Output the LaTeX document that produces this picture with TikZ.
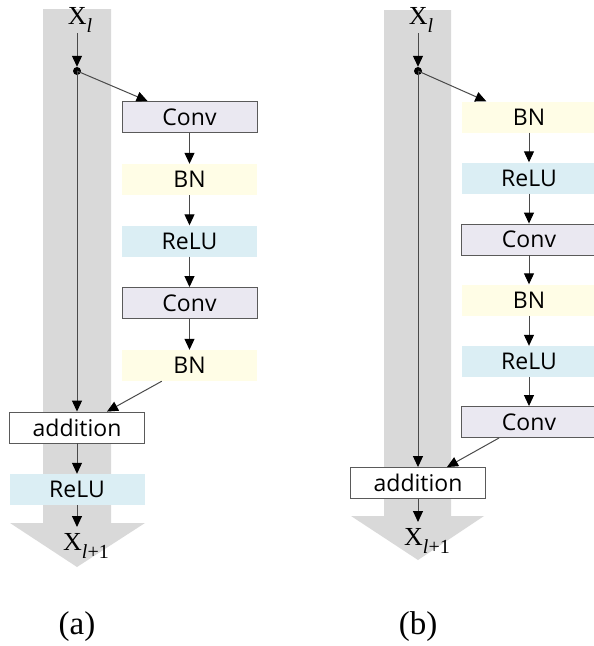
\documentclass[tikz,border=0pt]{standalone}
\usepackage{fontspec}
\setmainfont{Liberation Serif}
\setsansfont{Open Sans}
\usetikzlibrary{arrows.meta,calc}
\definecolor{bandgray}{HTML}{D9D9D9}
\definecolor{convfill}{HTML}{EAE8F1}
\definecolor{bnfill}{HTML}{FFFDE6}
\definecolor{relufill}{HTML}{DBEEF4}
\definecolor{edgegray}{HTML}{5A5A5A}
\definecolor{linegray}{HTML}{4A4A4A}
\newcommand{\xlab}[1]{{\fontsize{26}{28}\selectfont X\raisebox{-0.28em}{\fontsize{20}{22}\selectfont #1}}}
\begin{document}
\begin{tikzpicture}[x=1pt,y=-1pt,
  layerbox/.style={minimum width=135pt,minimum height=31pt,inner sep=0pt,
    font=\sffamily\fontsize{23}{26}\selectfont},
  convbox/.style={layerbox,fill=convfill,draw=edgegray,line width=0.9pt},
  bnbox/.style={layerbox,fill=bnfill},
  relubox/.style={layerbox,fill=relufill},
  addbox/.style={layerbox,fill=white,draw=edgegray,line width=0.9pt},
  flow/.style={draw=linegray,line width=1pt,-{Triangle[length=11pt,width=10pt,color=black]}},
  joint/.style={circle,fill=black,inner sep=0pt,minimum size=8pt},
  caption/.style={font=\fontsize{33}{36}\selectfont}]
\useasboundingbox (0,0) rectangle (594,646);
% gray bands
\fill[bandgray] (43,9) -- (111,9) -- (111,523) -- (145,523) -- (77,567) -- (10,523) -- (43,523) -- cycle;
\fill[bandgray] (384,10) -- (451,10) -- (451,516) -- (484,516) -- (418,560) -- (351,516) -- (384,516) -- cycle;

% ---------- panel (a)
\node (xla) at (80,20) {\xlab{\itshape l}};
\node[joint] (dota) at (77,71) {};
\node[convbox] (conv1a) at (189.5,117) {Conv};
\node[bnbox] (bn1a) at (189.5,179.5) {BN};
\node[relubox] (relu1a) at (189.5,241) {ReLU};
\node[convbox] (conv2a) at (189.5,303) {Conv};
\node[bnbox] (bn2a) at (189.5,365.5) {BN};
\node[addbox] (adda) at (77,427.5) {addition};
\node[relubox] (relua) at (77,489.5) {ReLU};
\coordinate (enda) at (77,527);
\node (xoa) at (86,546) {\xlab{\textit{l}+1}};

\draw[flow] (77,33) -- (dota);
\draw[flow] (dota.center) -- ([xshift=26pt]conv1a.north west);
\draw[flow] (conv1a) -- (bn1a);
\draw[flow] (bn1a) -- (relu1a);
\draw[flow] (relu1a) -- (conv2a);
\draw[flow] (conv2a) -- (bn2a);
\draw[flow] (dota.center) -- (adda.north);
\draw[flow] ([xshift=40pt]bn2a.south west) -- ([xshift=30pt]adda.north);
\draw[flow] (adda) -- (relua);
\draw[flow] (relua) -- (enda);

% ---------- panel (b)
\node (xlb) at (421,20) {\xlab{\itshape l}};
\node[joint] (dotb) at (418,71) {};
\node[bnbox] (bn1b) at (529,117) {BN};
\node[relubox] (relu1b) at (529,178) {ReLU};
\node[convbox] (conv1b) at (529,239.5) {Conv};
\node[bnbox] (bn2b) at (529,300) {BN};
\node[relubox] (relu2b) at (529,361.5) {ReLU};
\node[convbox] (conv2b) at (529,422) {Conv};
\node[addbox] (addb) at (418,483) {addition};
\coordinate (endb) at (418,522);
\node (xob) at (427,541) {\xlab{\textit{l}+1}};

\draw[flow] (418,33) -- (dotb);
\draw[flow] (dotb.center) -- ([xshift=25pt]bn1b.north west);
\draw[flow] (bn1b) -- (relu1b);
\draw[flow] (relu1b) -- (conv1b);
\draw[flow] (conv1b) -- (bn2b);
\draw[flow] (bn2b) -- (relu2b);
\draw[flow] (relu2b) -- (conv2b);
\draw[flow] (dotb.center) -- (addb.north);
\draw[flow] ([xshift=38pt]conv2b.south west) -- ([xshift=29pt]addb.north);
\draw[flow] (addb) -- (endb);

% captions
\node[caption] (capa) at (77,627) {(a)};
\node[caption] (capb) at (418,627) {(b)};
\end{tikzpicture}
\end{document}
